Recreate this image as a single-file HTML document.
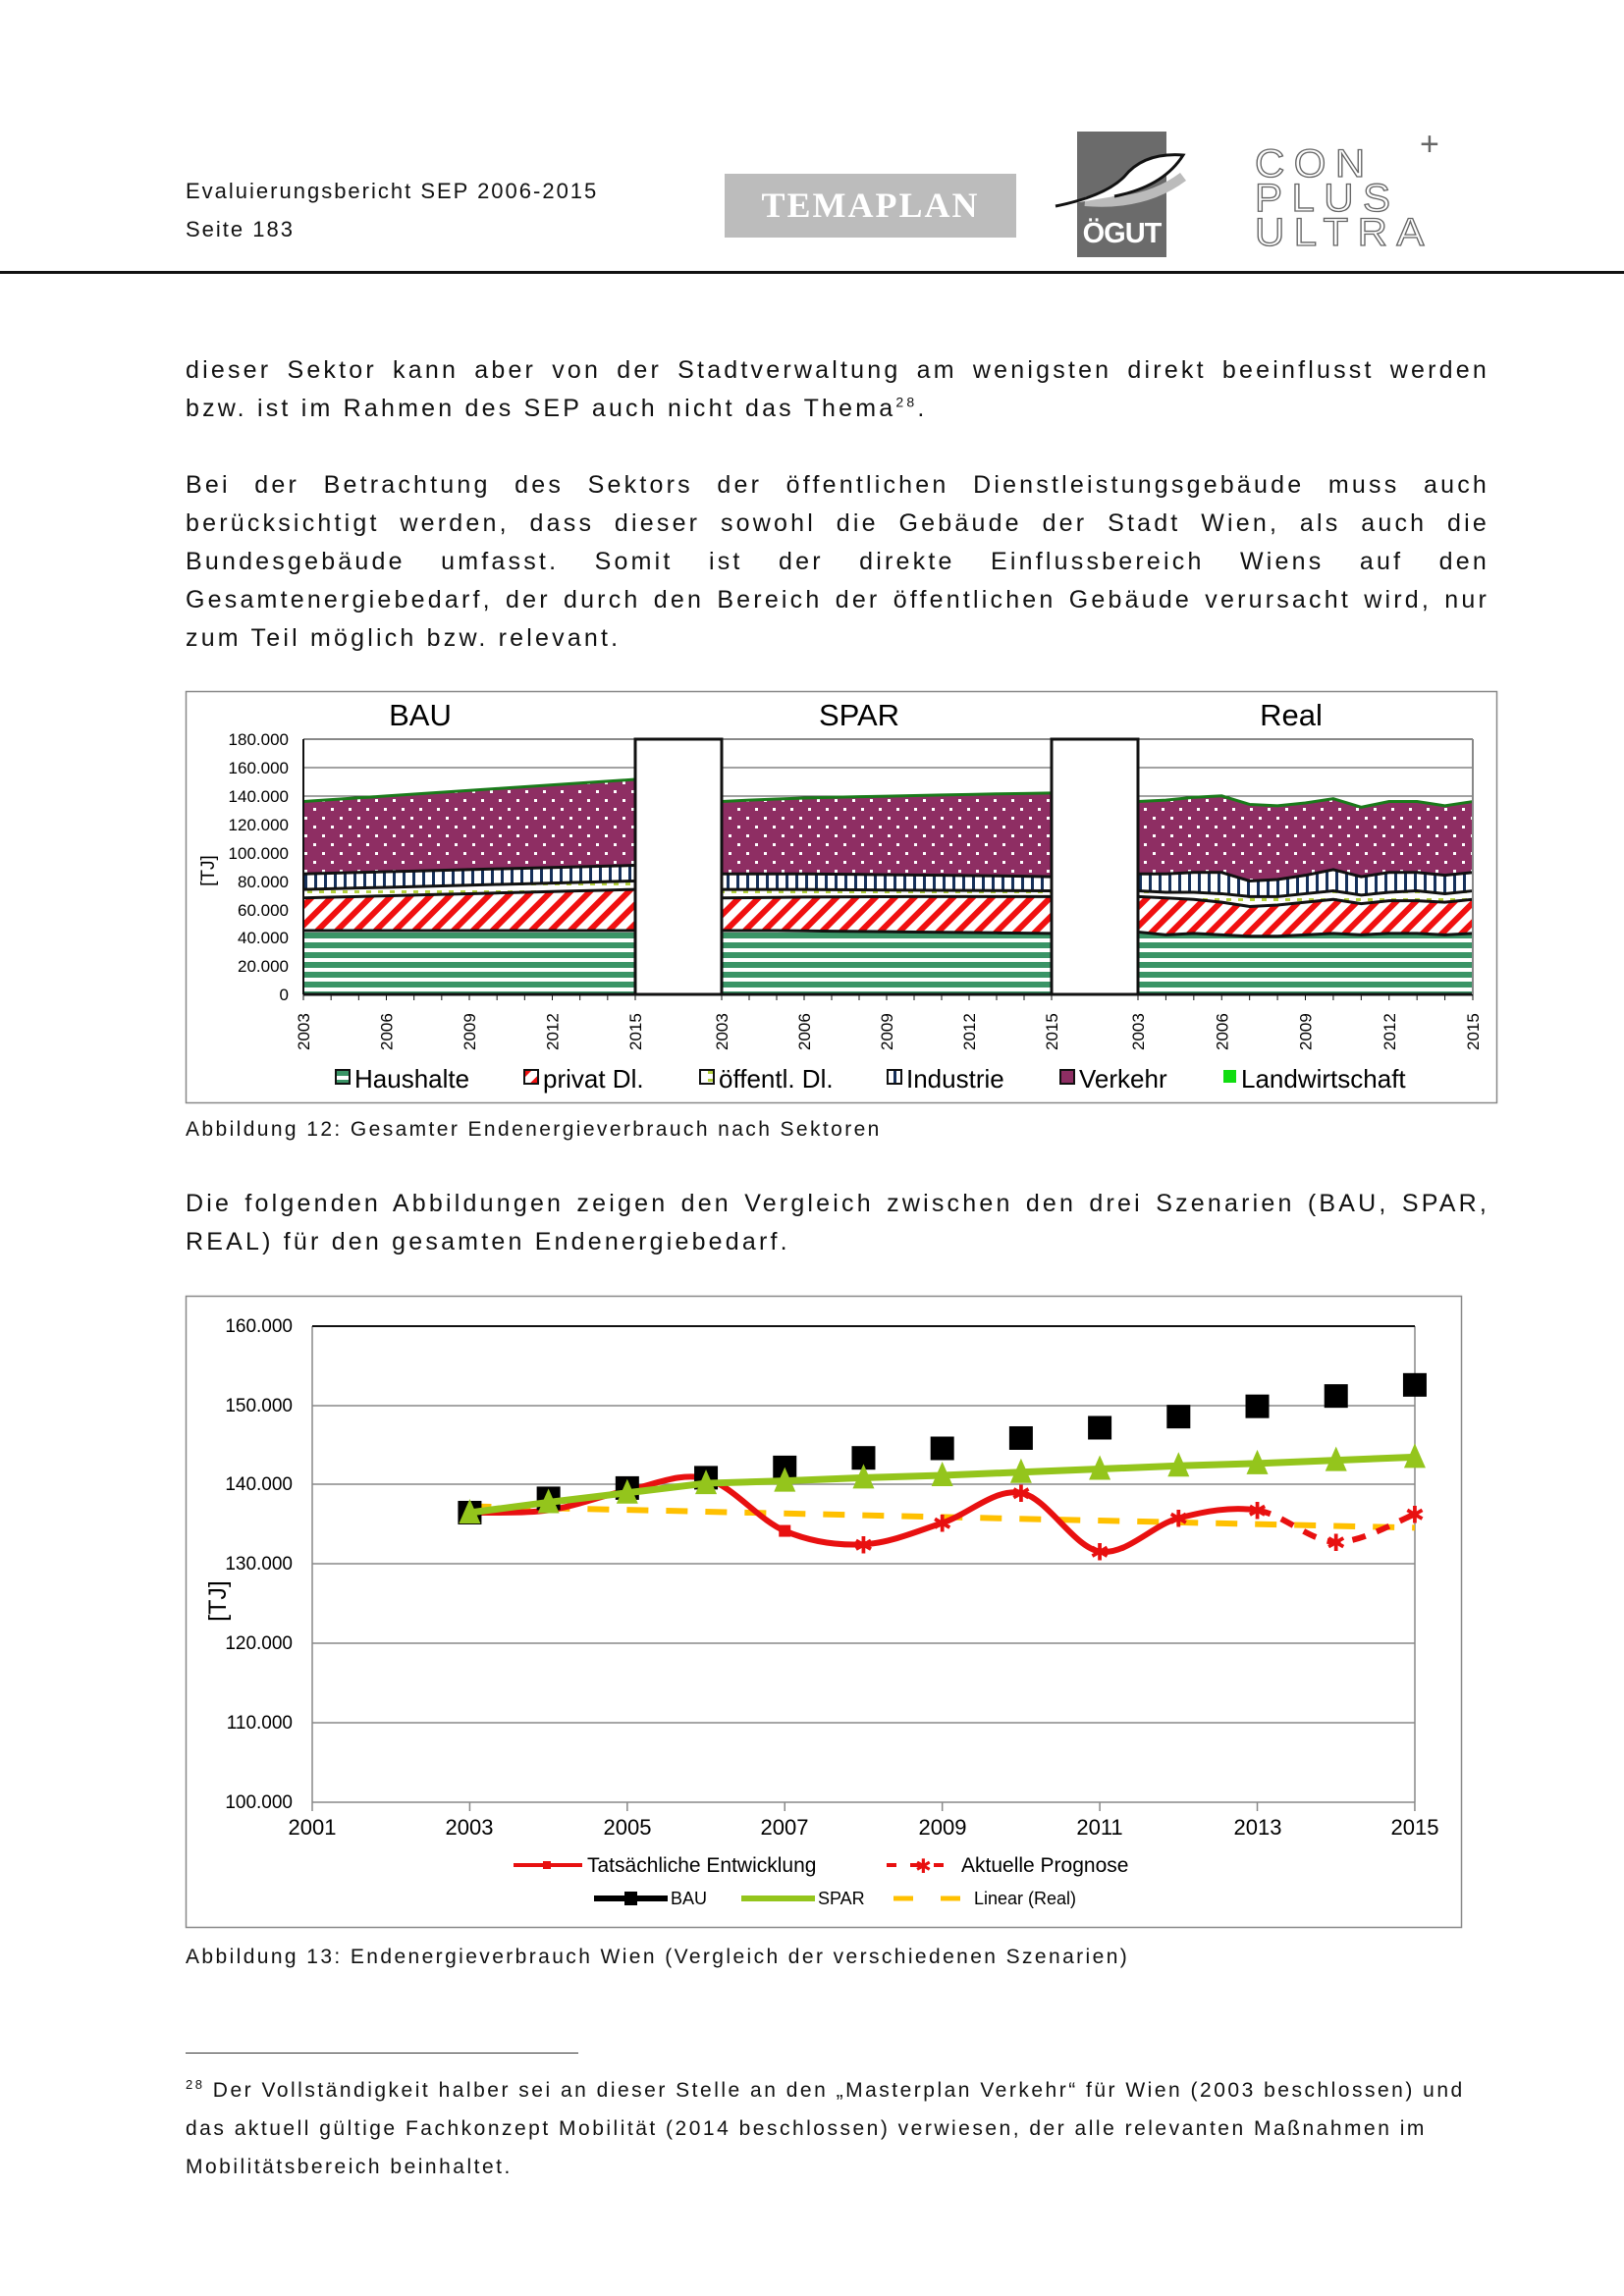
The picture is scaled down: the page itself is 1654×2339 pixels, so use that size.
<!DOCTYPE html>
<html><head><meta charset="utf-8"><style>
body{margin:0;background:#fff}
#pg{position:relative;width:1654px;height:2339px;overflow:hidden;font-family:"Liberation Sans",sans-serif;color:#111}
.t{position:absolute;left:189px;width:1328px;font-size:25px;line-height:39px;letter-spacing:3.2px;text-align:justify;text-align-last:justify;white-space:nowrap}
.t.l{text-align-last:left}
.cap{position:absolute;left:189px;font-size:21px;letter-spacing:2.4px;white-space:nowrap}
sup{line-height:0}
</style></head><body><div id="pg">
<div class="cap" style="top:182px;font-size:22px;letter-spacing:2px">Evaluierungsbericht SEP 2006-2015</div>
<div class="cap" style="top:221px;font-size:22px;letter-spacing:2px">Seite 183</div>
<div style="position:absolute;left:0;top:276px;width:1654px;height:3px;background:#111"></div>
<div style="position:absolute;left:738px;top:177px;width:297px;height:65px;background:#bcbcbc;color:#fff;font-family:'Liberation Serif',serif;font-weight:bold;font-size:36px;line-height:65px;text-align:center;letter-spacing:2px">TEMAPLAN</div>
<div style="position:absolute;left:1097px;top:134px;width:91px;height:128px;background:#6b6b6b"></div>
<div style="position:absolute;left:1097px;top:222px;width:91px;text-align:center;color:#fff;font-weight:bold;font-size:29px;letter-spacing:-1px">ÖGUT</div>
<svg style="position:absolute;left:1065px;top:140px" width="150" height="90"><path d="M40 65 Q100 70 140 40" fill="none" stroke="#bbb" stroke-width="10"/><path d="M10 70 Q60 60 80 40 Q100 15 140 18 Q120 50 70 60" fill="#fff" stroke="#111" stroke-width="3"/></svg>
<div style="position:absolute;left:1278px;top:150px;font-size:40px;line-height:35px;letter-spacing:9px;color:transparent;-webkit-text-stroke:1.3px #666;transform:scaleX(1.05);transform-origin:left">CON<br>PLUS<br>ULTRA</div>
<div style="position:absolute;left:1446px;top:128px;color:#666;font-size:34px">+</div>

<div class="t" style="top:358px">dieser Sektor kann aber von der Stadtverwaltung am wenigsten direkt beeinflusst werden</div>
<div class="t l" style="top:397px">bzw. ist im Rahmen des SEP auch nicht das Thema<sup style="font-size:14px">28</sup>.</div>
<div class="t" style="top:475px">Bei der Betrachtung des Sektors der öffentlichen Dienstleistungsgebäude muss auch</div>
<div class="t" style="top:514px">berücksichtigt werden, dass dieser sowohl die Gebäude der Stadt Wien, als auch die</div>
<div class="t" style="top:553px">Bundesgebäude umfasst. Somit ist der direkte Einflussbereich Wiens auf den</div>
<div class="t" style="top:592px">Gesamtenergiebedarf, der durch den Bereich der öffentlichen Gebäude verursacht wird, nur</div>
<div class="t l" style="top:631px">zum Teil möglich bzw. relevant.</div>
<div class="cap" style="top:1139px">Abbildung 12: Gesamter Endenergieverbrauch nach Sektoren</div>
<div class="t" style="top:1207px">Die folgenden Abbildungen zeigen den Vergleich zwischen den drei Szenarien (BAU, SPAR,</div>
<div class="t l" style="top:1246px">REAL) für den gesamten Endenergiebedarf.</div>
<div class="cap" style="top:1982px">Abbildung 13: Endenergieverbrauch Wien (Vergleich der verschiedenen Szenarien)</div>
<div style="position:absolute;left:189px;top:2091px;width:400px;height:1px;background:#333"></div>
<div class="cap" style="top:2118px;letter-spacing:2.5px"><sup style="font-size:13px">28</sup> Der Vollständigkeit halber sei an dieser Stelle an den „Masterplan Verkehr“ für Wien (2003 beschlossen) und</div>
<div class="cap" style="top:2157px;letter-spacing:2.5px">das aktuell gültige Fachkonzept Mobilität (2014 beschlossen) verwiesen, der alle relevanten Maßnahmen im</div>
<div class="cap" style="top:2196px;letter-spacing:2.5px">Mobilitätsbereich beinhaltet.</div>

<svg id="sv" style="position:absolute;left:0;top:0" width="1654" height="2339" font-family="Liberation Sans, sans-serif">
<defs>
<pattern id="pH" width="10" height="10" patternUnits="userSpaceOnUse"><rect width="10" height="10" fill="#fff"/><rect width="10" height="6" fill="#3a9466"/></pattern>
<pattern id="pP" width="14" height="14" patternUnits="userSpaceOnUse" patternTransform="rotate(45)"><rect width="14" height="14" fill="#fff"/><rect width="6" height="14" fill="#f01010"/></pattern>
<pattern id="pO" width="12" height="8" patternUnits="userSpaceOnUse"><rect width="12" height="8" fill="#fff"/><rect x="1" y="3" width="5" height="3" fill="#b4d23c"/></pattern>
<pattern id="pI" width="10" height="10" patternUnits="userSpaceOnUse"><rect width="10" height="10" fill="#fff"/><rect width="3" height="10" fill="#16305a"/></pattern>
<pattern id="pV" width="18" height="18" patternUnits="userSpaceOnUse"><rect width="18" height="18" fill="#8e2e63"/><rect x="4" y="4" width="3" height="3" fill="#fff"/><rect x="13" y="13" width="3" height="3" fill="#fff"/></pattern>
</defs>
<rect x="189.5" y="704.5" width="1335" height="419" fill="none" stroke="#888" stroke-width="1.5"/>
<g stroke="#444" stroke-width="1"><line x1="309" y1="753" x2="1500" y2="753" stroke="#888" stroke-width="2"/>
<line x1="309" y1="782" x2="1500" y2="782"/><line x1="309" y1="811" x2="1500" y2="811"/></g>
<g id="g1"></g>
<g font-size="17" text-anchor="end">
<text x="294" y="759">180.000</text><text x="294" y="788">160.000</text><text x="294" y="817">140.000</text><text x="294" y="846">120.000</text><text x="294" y="875">100.000</text><text x="294" y="904">80.000</text><text x="294" y="933">60.000</text><text x="294" y="961">40.000</text><text x="294" y="990">20.000</text><text x="294" y="1019">0</text></g>
<text transform="translate(218,887) rotate(-90)" font-size="19" text-anchor="middle">[TJ]</text>
<g font-size="31" text-anchor="middle"><text x="428" y="739">BAU</text><text x="875" y="739">SPAR</text><text x="1315" y="739">Real</text></g>
<g id="yl" font-size="17"></g>
<g font-size="26">
<rect x="342" y="1090" width="14" height="14" fill="url(#pH)" stroke="#111" stroke-width="2"/><text x="361" y="1108">Haushalte</text>
<rect x="534" y="1090" width="14" height="14" fill="url(#pP)" stroke="#111" stroke-width="2"/><text x="553" y="1108">privat Dl.</text>
<rect x="713" y="1090" width="14" height="14" fill="url(#pO)" stroke="#111" stroke-width="2"/><text x="732" y="1108">öffentl. Dl.</text>
<rect x="904" y="1090" width="14" height="14" fill="url(#pI)" stroke="#111" stroke-width="2"/><text x="923" y="1108">Industrie</text>
<rect x="1080" y="1090" width="14" height="14" fill="#8e2e63" stroke="#111" stroke-width="2"/><text x="1099" y="1108">Verkehr</text>
<rect x="1246" y="1090" width="13" height="13" fill="#11dd11"/><text x="1264" y="1108">Landwirtschaft</text></g>
<rect x="189.5" y="1320.5" width="1299" height="643" fill="none" stroke="#888" stroke-width="1.5"/>
<g stroke="#888" stroke-width="1.5">
<line x1="318" y1="1432" x2="1441" y2="1432"/><line x1="318" y1="1512" x2="1441" y2="1512"/><line x1="318" y1="1593" x2="1441" y2="1593"/><line x1="318" y1="1674" x2="1441" y2="1674"/><line x1="318" y1="1755" x2="1441" y2="1755"/><line x1="318" y1="1836" x2="1441" y2="1836"/><line x1="318" y1="1351" x2="318" y2="1836"/><line x1="1441" y1="1351" x2="1441" y2="1836"/></g>
<line x1="318" y1="1351" x2="1441" y2="1351" stroke="#111" stroke-width="2"/>
<g id="xt" stroke="#888" stroke-width="1.5"></g>
<g font-size="19" text-anchor="end"><text x="298" y="1357">160.000</text><text x="298" y="1438">150.000</text><text x="298" y="1518">140.000</text><text x="298" y="1599">130.000</text><text x="298" y="1680">120.000</text><text x="298" y="1761">110.000</text><text x="298" y="1842">100.000</text></g>
<text transform="translate(230,1631) rotate(-90)" font-size="25" text-anchor="middle">[TJ]</text>
<g font-size="22" text-anchor="middle"><text x="318" y="1869">2001</text><text x="478" y="1869">2003</text><text x="639" y="1869">2005</text><text x="799" y="1869">2007</text><text x="960" y="1869">2009</text><text x="1120" y="1869">2011</text><text x="1281" y="1869">2013</text><text x="1441" y="1869">2015</text></g>
<g id="g2"></g>
<g font-size="21">
<line x1="523" y1="1900" x2="593" y2="1900" stroke="#e81010" stroke-width="4"/><rect x="553" y="1896" width="8" height="8" fill="#e81010"/><text x="598" y="1907">Tatsächliche Entwicklung</text>
<line x1="903" y1="1900" x2="973" y2="1900" stroke="#e81010" stroke-width="4" stroke-dasharray="10,14"/><text x="932" y="1908" fill="#e81010" font-size="20">✱</text><text x="979" y="1907">Aktuelle Prognose</text>
<g font-size="18"><line x1="605" y1="1934" x2="680" y2="1934" stroke="#000" stroke-width="6"/><rect x="636" y="1927" width="13" height="14"/><text x="683" y="1940">BAU</text>
<line x1="755" y1="1934" x2="830" y2="1934" stroke="#94c51c" stroke-width="6"/><text x="833" y="1940">SPAR</text>
<line x1="910" y1="1934" x2="985" y2="1934" stroke="#ffc000" stroke-width="5" stroke-dasharray="20,28"/><text x="992" y="1940">Linear (Real)</text></g></g>
</svg>
<script>
var NS="http://www.w3.org/2000/svg";
function el(p,n,a){var e=document.createElementNS(NS,n);for(var k in a)e.setAttribute(k,a[k]);p.appendChild(e);return e;}
var g1=document.getElementById('g1'),yl=document.getElementById('yl');
function Y1(v){return 1013-v/180*260;}
var sc=[
{x0:309,x1:647,L:[[45,45,45,45,45,45,45,45,45,45,45,45,45],[68,68.5,69,69.5,70,70.5,71,71.5,72,72.5,73,73.5,74],[74,74.5,75,75.5,76,76.5,77,77.5,78,78.5,79,79.5,80],[85,85.5,86,86.5,87,87.5,88,88.5,89,89.5,90,90.5,91],[136,137.3,138.6,139.9,141.2,142.5,143.8,145.1,146.4,147.7,149,150.3,151.6]]},
{x0:735,x1:1071,L:[[45,45,45,44.8,44.6,44.4,44.2,44,43.8,43.6,43.4,43.2,43],[68,68.2,68.4,68.6,68.7,68.8,68.9,69,69,69,69,69,69],[74,74,74,74,73.8,73.7,73.6,73.5,73.4,73.3,73.2,73.1,73],[85,85,85,85,84.8,84.6,84.4,84.2,84,83.8,83.6,83.3,83],[136,137,137.8,138.5,139,139.4,139.8,140.2,140.6,141,141.4,141.7,142]]},
{x0:1159,x1:1500,L:[[44,42,43,42,41,41,42,43,42,43,43,42,43],[69,68,67,65,62,63,65,67,64,66,66,65,67],[73,72,72,71,69,69,71,73,70,72,73,71,73],[85,85,86,86,80,81,84,88,83,86,86,84,86],[136,137,139,140,134,133,135,138,132,136,136,133,136]]}];
var fills=['url(#pH)','url(#pP)','url(#pO)','url(#pI)','url(#pV)'];
sc.forEach(function(s){var dx=(s.x1-s.x0)/12;
 for(var l=4;l>=0;l--){var pts=[];for(var i=0;i<13;i++)pts.push((s.x0+i*dx)+','+Y1(s.L[l][i]));
  pts.push(s.x1+','+Y1(0));pts.push(s.x0+','+Y1(0));el(g1,'polygon',{points:pts.join(' '),fill:fills[l]});
  var ln=[];for(var i=0;i<13;i++)ln.push((s.x0+i*dx)+','+Y1(s.L[l][i]));
  el(g1,'polyline',{points:ln.join(' '),fill:'none',stroke:l==4?'#1a7a1a':'#111','stroke-width':3});}
 el(g1,'line',{x1:s.x0,y1:1013,x2:s.x1,y2:1013,stroke:'#111','stroke-width':3});
 for(var i=0;i<13;i++){var x=s.x0+i*dx;el(g1,'line',{x1:x,y1:1013,x2:x,y2:1019,stroke:'#111','stroke-width':1});}
 for(var i=0;i<13;i+=3){var x=s.x0+i*dx+6;var t=el(yl,'text',{transform:'translate('+x+',1070) rotate(-90)'});t.textContent=2003+i;}
});
[[647,735],[1071,1159]].forEach(function(b){el(g1,'rect',{x:b[0],y:753,width:b[1]-b[0],height:260,fill:'#fff',stroke:'#111','stroke-width':3});});
el(g1,'line',{x1:309,y1:753,x2:309,y2:1013,stroke:'#111','stroke-width':2});
el(g1,'line',{x1:1500,y1:753,x2:1500,y2:1013,stroke:'#888','stroke-width':2});
var xt=document.getElementById('xt');for(var y=2001;y<=2015;y+=2){var x=318+(y-2001)*80.21;el(xt,'line',{x1:x,y1:1836,x2:x,y2:1845});}
var g2=document.getElementById('g2');
function X(y){return 318+(y-2001)*80.21;}function Y(v){return 1836-(v-100)*8.083;}
function path(P,from,to){var d='M'+X(P[from][0])+','+Y(P[from][1]);
 for(var i=from;i<to;i++){var p0=P[Math.max(i-1,0)],p1=P[i],p2=P[i+1],p3=P[Math.min(i+2,P.length-1)];
  var c1x=X(p1[0])+(X(p2[0])-X(p0[0]))/6,c1y=Y(p1[1])+(Y(p2[1])-Y(p0[1]))/6,c2x=X(p2[0])-(X(p3[0])-X(p1[0]))/6,c2y=Y(p2[1])-(Y(p3[1])-Y(p1[1]))/6;
  d+=' C'+c1x+','+c1y+' '+c2x+','+c2y+' '+X(p2[0])+','+Y(p2[1]);}return d;}
var R=[136.5,136.8,139.3,140.8,134.2,132.5,135.2,139,131.6,135.8,136.8,132.8,136.3].map(function(v,i){return [2003+i,v]});
el(g2,'line',{x1:X(2003),y1:Y(137.3),x2:X(2015),y2:Y(134.6),stroke:'#ffc000','stroke-width':6,'stroke-dasharray':'22,18'});
el(g2,'path',{d:path(R,0,10),fill:'none',stroke:'#e81010','stroke-width':6});
el(g2,'path',{d:path(R,10,12),fill:'none',stroke:'#e81010','stroke-width':6,'stroke-dasharray':'14,12'});
var bau=[136.5,138.3,139.6,140.9,142.2,143.4,144.6,145.9,147.2,148.6,149.9,151.2,152.6];
var spar=[136.5,137.8,139,140.2,140.5,140.9,141.2,141.6,142,142.4,142.7,143.1,143.5];
bau.forEach(function(v,i){el(g2,'rect',{x:X(2003+i)-12,y:Y(v)-12,width:24,height:24,fill:'#000'});});
el(g2,'polyline',{points:spar.map(function(v,i){return X(2003+i)+','+Y(v)}).join(' '),fill:'none',stroke:'#94c51c','stroke-width':7});
spar.forEach(function(v,i){var x=X(2003+i),y=Y(v);el(g2,'polygon',{points:(x-11)+','+(y+11)+' '+(x+11)+','+(y+11)+' '+x+','+(y-14),fill:'#94c51c'});});
R.forEach(function(p,i){if(i>=5){var t=el(g2,'text',{x:X(p[0]),y:Y(p[1])+9,'text-anchor':'middle','font-size':24,fill:'#e81010'});t.textContent='✱';}});
el(g2,'rect',{x:X(2007)-6,y:Y(134.2)-6,width:12,height:12,fill:'#e81010'});
</script>
</div></body></html>
